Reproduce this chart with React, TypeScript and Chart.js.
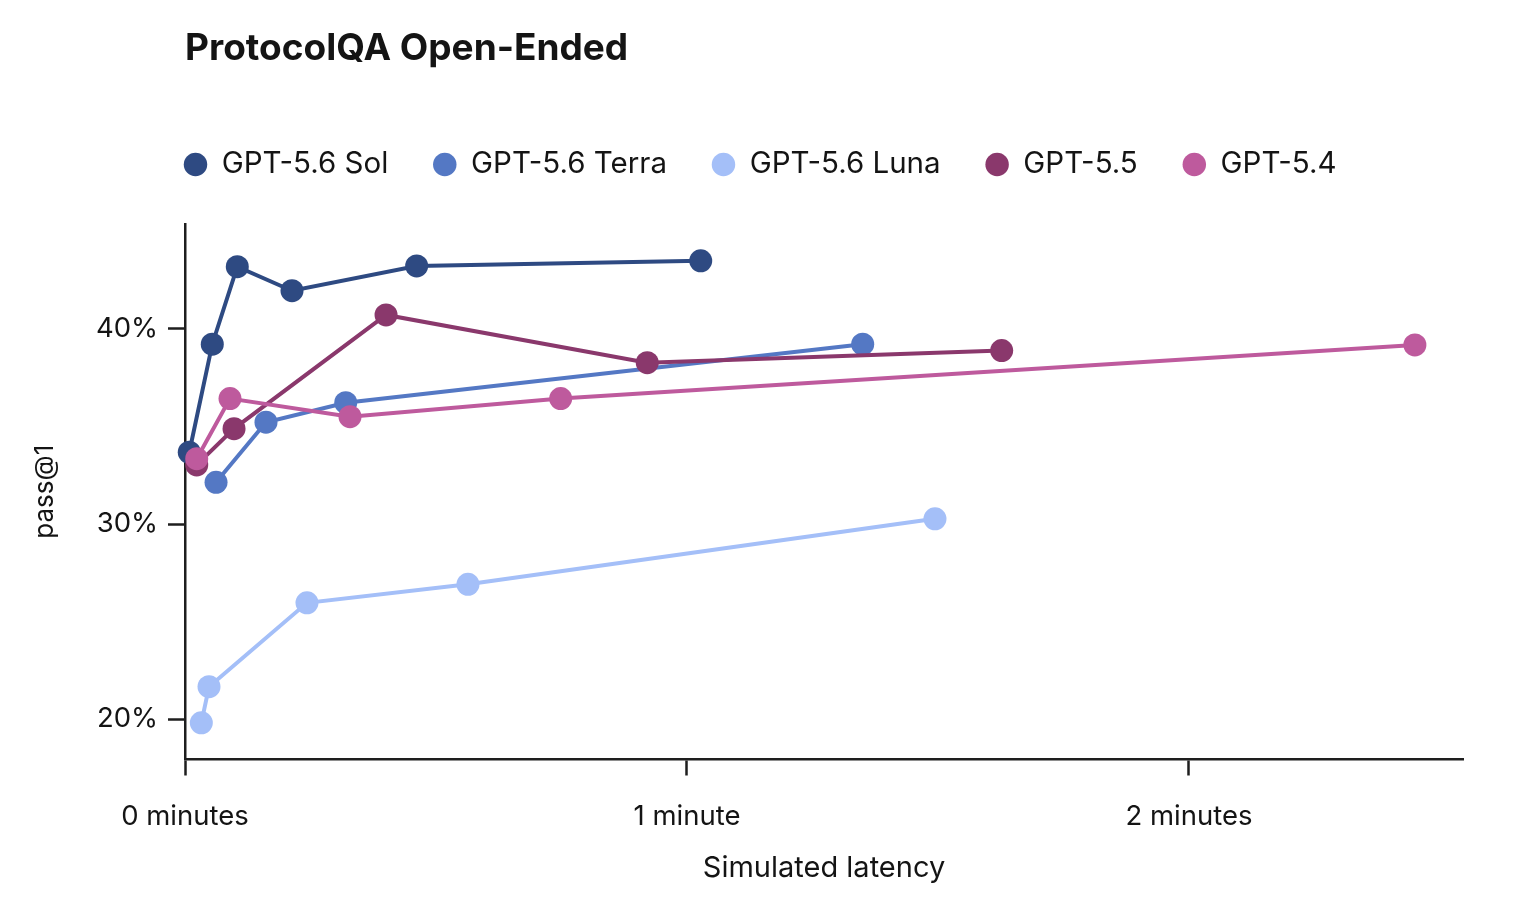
import { useEffect, useRef } from "react";
import { Chart, registerables } from "chart.js";

Chart.register(...registerables);

const FONT = "Inter, 'Noto Sans', 'DejaVu Sans', sans-serif";
const TEXT = "#141414";
const AXIS = "#1e1e1e";

const chartTitle = "ProtocolQA Open-Ended";
const xAxisTitle = "Simulated latency";
const yAxisTitle = "pass@1";

const seriesNames = ["GPT-5.6 Sol", "GPT-5.6 Terra", "GPT-5.6 Luna", "GPT-5.5", "GPT-5.4"];
const seriesColors = ["#2e4a82", "#5478c4", "#a4bff8", "#8a386c", "#be5a9d"];

// latency in seconds, pass@1 in percent
const solLatency = [0.51, 3.26, 6.25, 12.79, 27.69, 61.64];
const solPass = [33.68, 39.22, 43.19, 41.96, 43.23, 43.49];

const terraLatency = [3.71, 9.68, 19.21, 81.0];
const terraPass = [32.14, 35.22, 36.22, 39.22];

const lunaLatency = [1.95, 2.87, 14.58, 33.82, 89.64];
const lunaPass = [19.81, 21.66, 25.96, 26.91, 30.27];

const gpt55Latency = [1.4, 5.86, 24.03, 55.25, 97.61];
const gpt55Pass = [33.03, 34.89, 40.72, 38.27, 38.89];

const gpt54Latency = [1.4, 5.38, 19.72, 44.9, 147.0];
const gpt54Pass = [33.35, 36.43, 35.5, 36.43, 39.18];

const xTickValues = [0, 60, 120];
const xTickLabels = ["0 minutes", "1 minute", "2 minutes"];
const yTickValues = [20, 30, 40];
const yTickLabels = ["20%", "30%", "40%"];

const xMin = 0;
const xMax = 152.75;
const yMin = 17.93;
const yMax = 45.38;

const latencies = [solLatency, terraLatency, lunaLatency, gpt55Latency, gpt54Latency];
const passes = [solPass, terraPass, lunaPass, gpt55Pass, gpt54Pass];

const legendShift = {
  id: "legendShift",
  afterLayout(chart: any) {
    const lg = chart.legend;
    if (!lg) return;
    const pad = lg.options.labels.padding;
    lg.left = chart.chartArea.left - pad - 1;
  },
};

export default function App() {
  const canvasRef = useRef<HTMLCanvasElement | null>(null);

  useEffect(() => {
    if (!canvasRef.current) return;
    const n = seriesNames.length;
    const datasets = seriesNames.map((name, i) => ({
      label: name,
      data: latencies[i].map((x, j) => ({ x, y: passes[i][j] })),
      borderColor: seriesColors[i],
      backgroundColor: seriesColors[i],
      pointBackgroundColor: seriesColors[i],
      pointBorderWidth: 0,
      pointRadius: 11.5,
      pointHoverRadius: 11.5,
      pointStyle: "circle",
      borderWidth: 4,
      tension: 0,
      fill: false,
      clip: false as any,
      order: n - i,
    }));

    const chart = new Chart(canvasRef.current, {
      type: "line",
      data: { datasets },
      plugins: [legendShift],
      options: {
        animation: false,
        responsive: true,
        maintainAspectRatio: false,
        layout: { padding: { left: 0, right: 57, top: 0, bottom: 0 } },
        plugins: {
          title: {
            display: true,
            text: chartTitle,
            align: "start",
            fullSize: false,
            color: TEXT,
            font: { family: FONT, size: 37, weight: "bold", lineHeight: 1.2 },
            padding: { top: 27, bottom: 33.35 },
          },
          subtitle: {
            display: true,
            text: "",
            fullSize: false,
            weight: 100,
            font: { family: FONT, size: 10, lineHeight: 1 },
            padding: { top: 24.75, bottom: 0 },
          },
          legend: {
            display: true,
            position: "top",
            align: "start",
            fullSize: false,
            labels: {
              usePointStyle: true,
              pointStyle: "circle",
              boxWidth: 23,
              boxHeight: 16.6,
              padding: 45,
              color: TEXT,
              font: { family: FONT, size: 29.5 },
              sort: (a: any, b: any) => a.datasetIndex - b.datasetIndex,
              generateLabels: (c: any) =>
                (Chart.defaults.plugins.legend.labels.generateLabels as any)(c).map((l: any) => ({
                  ...l,
                  lineWidth: 0,
                  strokeStyle: "rgba(0,0,0,0)",
                })),
            },
          },
          tooltip: { enabled: false },
        },
        scales: {
          x: {
            type: "linear",
            min: xMin,
            max: xMax,
            afterBuildTicks: (s: any) => {
              s.ticks = xTickValues.map((v) => ({ value: v }));
            },
            afterFit: (s: any) => {
              s.height = 140.5;
            },
            ticks: {
              callback: (v: any) => xTickLabels[xTickValues.indexOf(Number(v))],
              padding: 24.5,
              color: TEXT,
              font: { family: FONT, size: 27.5 },
              maxRotation: 0,
              autoSkip: false,
            },
            grid: {
              drawOnChartArea: false,
              drawTicks: true,
              tickLength: 16,
              tickWidth: 2.5,
              tickColor: AXIS,
            },
            border: { display: true, color: AXIS, width: 2.5 },
            title: {
              display: true,
              text: xAxisTitle,
              color: TEXT,
              font: { family: FONT, size: 29, lineHeight: 1.2 },
              padding: { top: 0, bottom: 14.6 },
            },
          },
          y: {
            type: "linear",
            min: yMin,
            max: yMax,
            afterBuildTicks: (s: any) => {
              s.ticks = yTickValues.map((v) => ({ value: v }));
            },
            afterFit: (s: any) => {
              s.width = 185;
            },
            ticks: {
              callback: (v: any) => yTickLabels[yTickValues.indexOf(Number(v))],
              padding: 10,
              color: TEXT,
              font: { family: FONT, size: 27.5 },
              autoSkip: false,
            },
            grid: {
              drawOnChartArea: false,
              drawTicks: true,
              tickLength: 17,
              tickWidth: 2.5,
              tickColor: AXIS,
            },
            border: { display: true, color: AXIS, width: 2.5 },
            title: {
              display: true,
              text: yAxisTitle,
              color: TEXT,
              font: { family: FONT, size: 26, lineHeight: 1.2 },
              padding: { top: 29.4, bottom: 0 },
            },
          },
        },
      } as any,
    });
    return () => chart.destroy();
  }, []);

  return (
    <div style={{ position: "absolute", left: 0, top: 0, width: 1520, height: 900, background: "#fff" }}>
      <canvas ref={canvasRef} />
    </div>
  );
}
